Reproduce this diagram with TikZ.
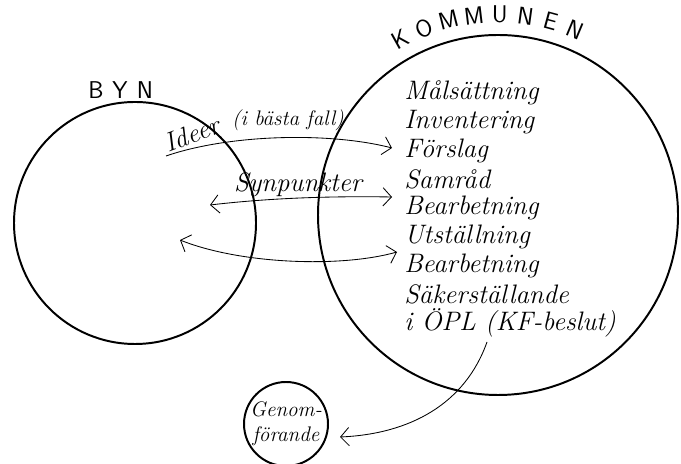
\documentclass[tikz,border=0pt]{standalone}
\usepackage{amsmath,amssymb}
\usetikzlibrary{arrows.meta, calc}

\begin{document}
\begin{tikzpicture}[x=0.025cm, y=0.025cm]
        \tikzset{
            ring/.style={line width=1.4pt},
            flow/.style={line width=0.6pt, -{Straight Barb[length=6pt, width=13pt]}},
            twoway/.style={line width=0.6pt, {Straight Barb[length=6pt, width=13pt]}-{Straight Barb[length=6pt, width=13pt]}},
            hand/.style={font=\fontsize{19}{23}\selectfont\itshape, inner sep=0pt},
            small hand/.style={font=\fontsize{15}{18}\selectfont\itshape, inner sep=0pt},
            caps/.style={font=\LARGE\sffamily, inner sep=0pt}
        }
        \useasboundingbox (0,0) rectangle (681,464);
        \coordinate (byn) at (135,241);
        \coordinate (kom) at (498,249);
        \coordinate (gen) at (286,40);
        \draw[ring] (byn) circle (121);
        \draw[ring] (kom) circle (180);
        \draw[ring] (gen) circle (42);
        \node[caps] (byn1) at (96,374) {B};
        \node[caps] (byn2) at (120,374) {Y};
        \node[caps] (byn3) at (145,374) {N};
        % letters round the top of the big circle
        \foreach \l [count=\i] in {K,O,M,M,U,N,E,N} {
            \pgfmathsetmacro{\ang}{119-7.37*(\i-1)}
            \node[caps, rotate=\ang-90] (kom\i) at ($(kom)+(\ang:201)$) {\l};
        }
        \foreach \t [count=\i] in {Målsättning, Inventering, Förslag, Samråd, Bearbetning, Utställning, Bearbetning, Säkerställande, i ÖPL (KF-beslut)} {
            \node[hand, anchor=west] (item\i) at (404,{371-28.75*(\i-1)}) {\t};
        }
        \node[small hand, align=center] (genlabel) at (gen) {Genom-\\förande};
        % arrows between the circles
        \coordinate (ideS) at (166,308);
        \coordinate (ideE) at (392,316);
        \draw[flow] (ideS) .. controls (230,330) and (330,332) .. (ideE);
        \node[hand, rotate=21] (ideer) at (192,330) {Ideer};
        \node[small hand] (bast) at (288,344) {(i bästa fall)};
        \coordinate (synL) at (210,259);
        \coordinate (synR) at (392,267);
        \draw[twoway] (synL) .. controls (270,266) and (330,268) .. (synR);
        \node[hand] (synp) at (298,279) {Synpunkter};
        \coordinate (thrL) at (180,224);
        \coordinate (thrR) at (397,212);
        \draw[twoway] (thrL) .. controls (240,200) and (340,196) .. (thrR);
        \coordinate (oplS) at (487,122);
        \coordinate (genE) at (340,27);
        \draw[flow] (oplS) .. controls (465,60) and (410,30) .. (genE);
    \end{tikzpicture}
\end{document}
